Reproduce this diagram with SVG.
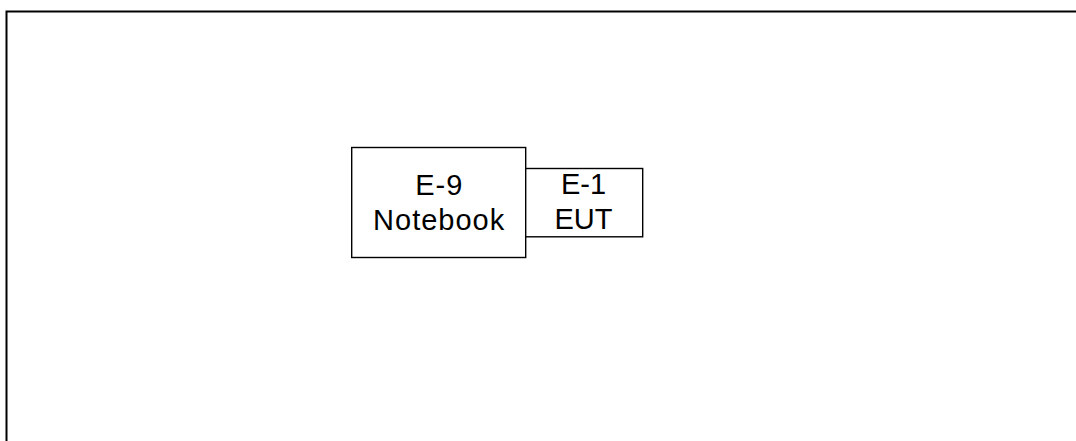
<svg xmlns="http://www.w3.org/2000/svg" width="1076" height="441" viewBox="0 0 1076 441">
<style>
.box{fill:#fff;stroke:#000;stroke-width:1.4}
.lbl{font-family:"Liberation Sans",Arial,sans-serif;font-size:29px;fill:#000;text-anchor:middle}
</style>
<rect width="1076" height="441" fill="#fff"/>
<rect x="6.5" y="11.5" width="1080" height="440" fill="none" stroke="#000" stroke-width="2"/>
<g id="connectors"></g>
<g id="notebook">
<rect class="box" x="351.7" y="147.5" width="174" height="110"/>
<text class="lbl" x="439.2" y="194.5" letter-spacing="1">E-9</text>
<text class="lbl" x="439.2" y="229.5" letter-spacing="1">Notebook</text>
</g>
<g id="eut">
<rect class="box" x="525.7" y="168.5" width="117" height="68.3"/>
<text class="lbl" x="583.5" y="193.5">E-1</text>
<text class="lbl" x="583.5" y="228.5">EUT</text>
</g>
</svg>
